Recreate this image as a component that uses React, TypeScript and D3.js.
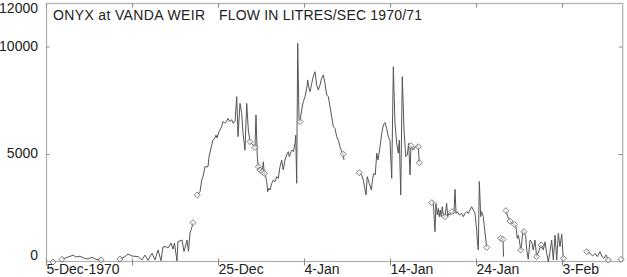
import React from "react";
import * as d3 from "d3";

// days after 5-Dec-1970, flow in L/s (null = gap in record)
const days: number[] = [
  0.76, 1.0,
  1.8, 2.27, 2.73, 3.08, 3.43, 3.9, 4.36, 4.83, 5.29, 5.76, 6.34, 7.0,
  8.55, 9.13, 9.48, 9.94, 10.64, 11.1, 11.45, 11.8, 12.27, 12.62, 12.97, 13.31, 13.55, 13.9, 14.13, 14.48, 14.71, 14.88,
  15.17, 15.29, 15.76, 15.99, 16.34, 16.51, 16.69, 16.92, 17.03, 17.3,
  17.53, 17.85, 18.05, 18.2, 18.43, 18.78, 18.9, 19.21, 19.36, 19.59, 19.71, 19.83, 20.06, 20.37, 20.52, 20.76, 20.95,
  21.1, 21.34, 21.53, 21.69, 21.92, 22.12, 22.27, 22.5, 22.7, 22.85, 23.08, 23.28, 23.47, 23.66, 23.86, 24.05, 24.24,
  24.36, 24.51, 24.63, 24.83, 25.09, 25.21, 25.33, 25.49, 25.6, 25.72, 25.87, 25.99, 26.19, 26.37, 26.57, 26.77, 26.95,
  27.15, 27.35, 27.53, 27.73, 27.93, 28.12, 28.23, 28.43, 28.58, 28.7, 28.9, 28.98, 29.09, 29.21, 29.36, 29.48, 29.67,
  29.86, 30.06, 30.26, 30.37, 30.52, 30.64, 30.84, 31.02, 31.22, 31.42, 31.6, 31.8, 31.99, 32.19, 32.38, 32.58, 32.77,
  32.97, 33.16, 33.35, 33.55, 33.74, 33.93, 34.13, 34.33, 34.51, 34.59, 35.5,
  36.37, 36.65, 36.84, 37.15, 37.3, 37.53, 37.77, 37.93, 38.08, 38.23, 38.4, 38.55, 38.78, 38.98, 39.16, 39.36, 39.56,
  39.74, 39.94, 40.14, 40.33, 40.52, 40.72, 40.91, 41.03, 41.19, 41.37, 41.57, 41.77, 41.95, 42.12, 42.27, 42.38, 42.62,
  42.85, 43.23, 43.35, 44.0,
  44.8, 44.98, 45.17, 45.29, 45.44, 45.56, 45.67, 45.79, 45.9, 46.02, 46.14, 46.34, 46.53, 46.65, 46.77, 46.92, 47.15,
  47.38, 47.5, 47.62, 47.77, 48.0, 48.28, 48.47, 48.66, 48.86, 49.05, 49.24, 49.44, 49.63, 49.83, 50.02, 50.09, 50.21,
  50.33, 50.49, 50.6, 50.79, 50.91, 51.19, 52.0,
  52.81, 53.08, 53.15, 53.3,
  53.43, 53.7, 53.9, 54.1, 54.4, 54.59, 54.74, 54.86, 54.98, 55.14, 55.26, 55.37, 55.52, 55.72, 55.84, 56.02, 56.22,
  56.42, 56.6, 56.8, 56.99, 57.3, 57.5, 57.77, 57.97, 58.16, 58.35, 58.55, 58.74, 58.93, 59.13, 59.33, 59.51, 59.71,
  59.91, 60.09, 61.5,
  62.81, 63.2, 63.51, 63.78, 64.05, 64.36, 64.59, 64.83, 65.06, 65.33, 66.0,
  66.8,
];

const flow: (number | null)[] = [
  0, null,
  125, 200, 260, 320, 230, 270, 180, 140, 220, 120, 100, null,
  140, 250, 370, 280, 250, 100, 320, 80, 410, 100, 560, 60, 710, 710, 650, 880, 600, 880,
  50, 950, 1020, 480, 1020, 500, 1350, 1630, 1830, null,
  3116, 3270, 3810, 3970, 4430, 4430, 4900, 5440, 5670, 5770, 5900, 5770, 6060, 6300, 6530, 6460, 6530,
  6680, 6530, 6620, 6460, 6530, 7690, 5830, 7380, 6920, 6000, 5200, 7380, 6140, 5600, 5500, 5440, 5330,
  6840, 4900, 4430, 4280, 4200, 4660, 4120, 3970, 3740, 3270, 3430, 3350, 3660, 3810, 3740, 3970, 3890,
  4430, 4740, 4280, 4740, 4980, 5130, 4900, 5130, 5210, 5130, 5520, 5900, 3660, 10170, 6680, 6530, 7070,
  7460, 7690, 8080, 8470, 8080, 7920, 8310, 8620, 8850, 8230, 8000, 8230, 8540, 8700, 8310, 7770, 7690,
  7220, 6760, 6290, 6210, 5830, 5670, 5360, 5130, 5020, 4740, null,
  4150, 4050, 3810, 3120, 3970, 3660, 3350, 3890, 4120, 4050, 5060, 4740, 5360, 5980, 6370, 6480, 6210,
  5830, 5670, 3890, 9080, 6450, 5520, 5060, 5670, 3120, 8620, 6140, 4900, 4980, 5520, 4050, 5410, 5210,
  5360, 5360, 4620, null,
  2760, 2800, 1410, 2720, 2190, 2490, 2110, 2420, 2110, 2570, 2190, 2110, 2730, 2110, 2260, 2190, 2340,
  2260, 3380, 2260, 2340, 2190, 2260, 2110, 2260, 2340, 2260, 2420, 2570, 2420, 2260, 1490, 1020, 560,
  3740, 2110, 2340, 2110, 1640, 680, null,
  1100, 1050, 250, null,
  2390, 2030, 1900, 1800, 1750, 1640, 1100, 1250, 1020, 560, 870, 1410, 1410, 1180, 560, 130, 1020,
  940, 560, 1020, 250, 560, 790, 560, 940, 400, 15, 480, 1020, 90, 1250, 90, 1330, 710,
  1300, 170, null,
  480, 400, 280, 400, 250, 480, 250, 170, 330, 90, null,
  125,
];

// readings flagged with a diamond
const markDays: number[] = [
  0.76, 1.8, 6.34, 8.55, 17.03, 17.53, 23.66, 24.24, 24.63, 24.83, 25.09, 25.33, 29.48, 34.51,
  36.37, 42.38, 43.23, 43.35, 44.8, 46.34, 47.15, 51.19, 52.81, 53.08,
  53.43, 53.9, 54.4, 55.14, 55.52, 56.99, 57.5, 60.09, 62.81, 65.33, 66.8,
];

const xTickDays = [0, 10, 20, 30, 40, 50, 60];
const xTickLabels = ["5-Dec-1970", "", "25-Dec", "4-Jan", "14-Jan", "24-Jan", "3-Feb"];
const yTicks = [0, 5000, 10000, 12000];

const W = 627;
const H = 277;
const left = 46.5;
const right = 622.7;
const top = 3.5;
const bottom = 261.5;
const font = "'Liberation Sans', Arial, sans-serif";
const frame = "#b0b0b0";

export default function App() {
  const x = d3.scaleLinear().domain([0, 67]).range([left, right]);
  const y = d3.scaleLinear().domain([0, 12000]).range([262, 4]);

  const pts = days.map((d, i) => ({ d, q: flow[i] }));
  const line = d3
    .line<{ d: number; q: number | null }>()
    .defined((p) => p.q !== null)
    .x((p) => x(p.d))
    .y((p) => y(p.q as number));

  const marked = pts.filter((p) => p.q !== null && markDays.includes(p.d));
  const diamond = d3.symbol(d3.symbolSquare, 18)()!;

  return (
    <svg
      width={W}
      height={H}
      style={{ position: "absolute", left: 0, top: 0, background: "#fff" }}
      fontFamily={font}
    >
      <rect x={0} y={0} width={W} height={H} fill="#fff" />
      {/* frame */}
      <rect x={left} y={top} width={right - left} height={bottom - top} fill="none" stroke={frame} strokeWidth={1.2} />
      {xTickDays.map((d) => (
        <g key={d}>
          <line x1={x(d)} x2={x(d)} y1={bottom - 3} y2={bottom + 4} stroke="#888" />
          <line x1={x(d)} x2={x(d)} y1={top} y2={top + 4} stroke="#888" />
        </g>
      ))}
      {[5000, 10000].map((v) => (
        <g key={v}>
          <line x1={left} x2={left + 3} y1={y(v)} y2={y(v)} stroke="#888" />
          <line x1={right - 4} x2={right} y1={y(v)} y2={y(v)} stroke="#888" />
        </g>
      ))}
      {yTicks.map((v) => (
        <text
          key={v}
          x={38}
          y={Math.min(256, Math.max(9, y(v)))}
          textAnchor="end"
          dominantBaseline="middle"
          fontSize={14}
          fill="#222"
        >
          {v}
        </text>
      ))}
      {xTickDays.map((d, i) =>
        xTickLabels[i] ? (
          <text key={d} x={x(d)} y={273.5} fontSize={14} fill="#222">
            {xTickLabels[i]}
          </text>
        ) : null
      )}
      <text x={53} y={19.5} fontSize={14} fill="#222" textLength={152} lengthAdjust="spacing">
        ONYX at VANDA WEIR
      </text>
      <text x={219} y={19.5} fontSize={14} fill="#222" textLength={203} lengthAdjust="spacing">
        FLOW IN LITRES/SEC 1970/71
      </text>

      <path d={line(pts) || ""} fill="none" stroke="#555" strokeWidth={1} strokeLinejoin="round" />
      {marked.map((p, i) => (
        <path
          key={i}
          d={diamond}
          transform={`translate(${x(p.d)},${y(p.q as number)}) rotate(45)`}
          fill="#fff"
          fillOpacity={0.6}
          stroke="#666"
          strokeWidth={0.8}
        />
      ))}
    </svg>
  );
}
